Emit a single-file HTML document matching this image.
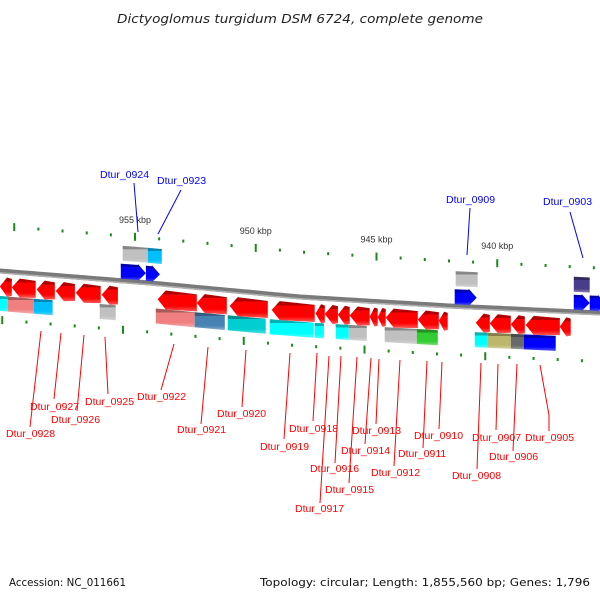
<!DOCTYPE html>
<html><head><meta charset="utf-8">
<style>
html,body{margin:0;padding:0;background:#fff;}
svg{display:block;font-family:"Liberation Sans","DejaVu Sans",sans-serif;}
</style></head>
<body>
<svg id="chart" width="600" height="600" viewBox="0 0 600 600">
<defs>
<linearGradient id="shade" x1="0" y1="0" x2="0" y2="1">
<stop offset="0" stop-color="#000" stop-opacity="0.3"/>
<stop offset="0.2" stop-color="#000" stop-opacity="0.3"/>
<stop offset="0.21" stop-color="#fff" stop-opacity="0"/>
<stop offset="0.75" stop-color="#fff" stop-opacity="0"/>
<stop offset="1" stop-color="#fff" stop-opacity="0.35"/>
</linearGradient>
</defs>
<text x="117" y="23" font-family="DejaVu Sans, sans-serif" textLength="366" lengthAdjust="spacingAndGlyphs" font-size="12" font-style="italic" fill="#222">Dictyoglomus turgidum DSM 6724, complete genome</text>
<text x="9" y="586" font-family="DejaVu Sans, sans-serif" textLength="117" lengthAdjust="spacingAndGlyphs" font-size="11" fill="#111">Accession: NC_011661</text>
<text x="260" y="586" font-family="DejaVu Sans, sans-serif" textLength="330" lengthAdjust="spacingAndGlyphs" font-size="11" fill="#111">Topology: circular; Length: 1,855,560 bp; Genes: 1,796</text>
<g id="ticks"></g>
<g id="backbone"></g>
<g id="genes"></g>
<g id="labels"></g>
</svg>
<script>
// ---- data (positions in kbp) ----
const tickKbp = [960,959,958,957,956,955,954,953,952,951,950,949,948,947,946,945,944,943,942,941,940,939,938,937,936];
const tickLabelKbp = [955,950,945,940];
const revGenes = [[960.60,960.10],[960.10,959.11],[959.07,958.32],[958.28,957.49],[957.45,956.42],[956.38,955.71],[954.06,952.44],[952.44,951.20],[951.08,949.50],[949.34,947.56],[947.52,947.14],[947.14,946.60],[946.60,946.11],[946.11,945.28],[945.28,944.95],[944.95,944.62],[944.62,943.29],[943.29,942.42],[942.42,942.05],[940.89,940.31],[940.31,939.44],[939.44,938.86],[938.82,937.41],[937.41,936.96]];
const revBoxes = [[960.60,960.27,'#00ffff'],[960.27,959.19,'#f08080'],[959.19,958.41,'#00bfff'],[956.46,955.80,'#c0c0c0'],[954.14,952.53,'#f08080'],[952.53,951.28,'#4682b4'],[951.16,949.59,'#00ced1'],[949.42,947.60,'#00ffff'],[947.56,947.18,'#00ffff'],[946.69,946.15,'#00ffff'],[946.15,945.40,'#c0c0c0'],[944.66,943.33,'#c0c0c0'],[943.33,942.46,'#32cd32'],[940.93,940.39,'#00ffff'],[940.39,939.44,'#bdb76b'],[939.44,938.90,'#696969'],[938.90,937.58,'#0000ff']];
const fwdGenes = [[955.59,954.55],[954.55,953.97],[941.76,940.85],[936.83,936.17],[936.17,935.50]];
const fwdBoxes = [[955.51,954.47,'#c0c0c0'],[954.47,953.89,'#00bfff'],[941.72,940.81,'#c0c0c0'],[936.83,936.17,'#483d8b']];
const labelNames = ['Dtur_0928','Dtur_0927','Dtur_0926','Dtur_0925','Dtur_0922','Dtur_0921','Dtur_0920','Dtur_0919','Dtur_0918','Dtur_0917','Dtur_0916','Dtur_0915','Dtur_0914','Dtur_0913','Dtur_0912','Dtur_0911','Dtur_0910','Dtur_0908','Dtur_0907','Dtur_0906','Dtur_0905'];
const labelText = [[6,437],[30,410],[51,423],[85,405],[137,400],[177,433],[217,417],[260,450],[289,432],[295,512],[310,472],[325,493],[341,454],[352,434],[371,476],[398,457],[414,439],[452,479],[472,441],[489,460],[525,441]];
const labelLine = [[41,331,30,427],[61,333,54,399],[84,335,77,411],[105,337,108,394],[174,344,161,390],[208,347,201,424],[246,350,242,407],[290,353,284,439],[317,353,313,421],[329,356,320,503],[341,356,335,463],[357,357,349,483],[371,358,365,444],[379,359,376,424],[400,360,394,466],[427,361,423,448],[442,362,439,429],[481,363,477,469],[498,364,496,430],[517,364,513,451],[540,365,549,415,549,431]];
const topNames = ['Dtur_0924','Dtur_0923','Dtur_0909','Dtur_0903'];
const topText = [[100,178],[157,184],[446,203],[543,205]];
const topLine = [[134,183,138,232],[181,190,158,234],[470,208,467,255],[570,212,583,258]];

// ---- scales ----
function X(k){ return 135 + (955 - k) * 24.15; }
const bbPts = [[0,271],[150,283],[300,297],[450,306],[600,313]];
function BB(x){
  for(let i=0;i<bbPts.length-1;i++){
    const a=bbPts[i], b=bbPts[i+1];
    if(x<=b[0]||i===bbPts.length-2){ const t=(x-a[0])/(b[0]-a[0]); return a[1]+t*(b[1]-a[1]); }
  }
}
const NS='http://www.w3.org/2000/svg';
function mk(tag, attrs, parent){
  const e=document.createElementNS(NS,tag);
  for(const k in attrs) e.setAttribute(k, attrs[k]);
  parent.appendChild(e); return e;
}
const gT=document.getElementById('ticks'), gB=document.getElementById('backbone'), gG=document.getElementById('genes'), gL=document.getElementById('labels');

// backbone
let d='';
for(let x=-5;x<=605;x+=5){ d += (x===-5?'M':'L')+x+','+BB(x).toFixed(1); }
const bb1=mk('path',{d:d,fill:'none',stroke:'#7a7a7a','stroke-width':5},gB);


let d2='';
for(let x=-5;x<=605;x+=5){ d2 += (x===-5?'M':'L')+x+','+(BB(x)+1.8).toFixed(1); }
const bb2=mk('path',{d:d2,fill:'none',stroke:'#b0b0b0','stroke-width':1.5},gB);



// ticks
tickKbp.forEach(k=>{
  const x=X(k), major = k%5===0;
  const yu = BB(x) - 45, yl = BB(x) + 48;
  const len = major?8:3;
  const t1=mk('rect',{x:x-1,y:yu-len/2,width:2,height:len,fill:'#1a8a1a'},gT);
  
  
  const t2=mk('rect',{x:x-1-12,y:yl-len/2,width:2,height:len,fill:'#1a8a1a'},gT);
  
  
});
tickLabelKbp.forEach(k=>{
  const x=X(k);
  const t=mk('text',{x:x,y:BB(x)-59,'text-anchor':'middle','font-size':9,fill:'#333'},gT);
  t.textContent=k+' kbp';
  
  
});

function quad(x0,x1,off,h){
  return [[x0,BB(x0)+off],[x1,BB(x1)+off],[x1,BB(x1)+off+h],[x0,BB(x0)+off+h]];
}
function shadeOver(pts){
  const p=mk('polygon',{points:pts.map(p=>p.join(',')).join(' '),fill:'url(#shade)'},gG);
  
  
}
function arrow(x0,x1,off,h,dir,color,name){
  const head=Math.min(8,(x1-x0)*0.6);
  let pts;
  const y0=BB(x0)+off, y1=BB(x1)+off;
  if(dir<0){
    const xh=x0+head, yh=BB(xh)+off;
    pts=[[x0,y0+h/2],[xh,yh-1],[x1,y1],[x1,y1+h],[xh,yh+h+1]];
  } else {
    const xh=x1-head, yh=BB(xh)+off;
    pts=[[x0,y0],[xh,yh],[xh,yh-1],[x1,y1+h/2],[xh,yh+h+1],[xh,yh+h],[x0,y0+h]];
  }
  const p=mk('polygon',{points:pts.map(p=>p.map(v=>v.toFixed(1)).join(',')).join(' '),fill:color},gG);
  
  
  shadeOver(pts);
}
revGenes.forEach(g=>{ arrow(X(g[0]),X(g[1]),7,17,-1,'#ff0000','reverse-gene'); });
fwdGenes.forEach(g=>{ arrow(X(g[0]),X(g[1]),-17,15,1,'#0000ff','forward-gene'); });
revBoxes.forEach(b=>{
  const pts=quad(X(b[0]),X(b[1]),25,15);
  const p=mk('polygon',{points:pts.map(p=>p.map(v=>v.toFixed(1)).join(',')).join(' '),fill:b[2]},gG);
  
  
  shadeOver(pts);
});
fwdBoxes.forEach(b=>{
  const pts=quad(X(b[0]),X(b[1]),-35,15);
  const p=mk('polygon',{points:pts.map(p=>p.map(v=>v.toFixed(1)).join(',')).join(' '),fill:b[2]},gG);
  
  
  shadeOver(pts);
});

// labels
function addLabel(name,tp,ln,color){
  const pts=[];
  for(let i=0;i<ln.length;i+=2) pts.push(ln[i]+','+ln[i+1]);
  const l=mk('polyline',{points:pts.join(' '),fill:'none',stroke:color,'stroke-width':1},gL);
  
  
  const t=mk('text',{x:tp[0],y:tp[1],'font-size':10.5,fill:color},gL);
  t.textContent=name;
  
  
}
labelNames.forEach((n,i)=>addLabel(n,labelText[i],labelLine[i],'#ff0000'));
topNames.forEach((n,i)=>addLabel(n,topText[i],topLine[i],'#0000ff'));
</script>
</body></html>
